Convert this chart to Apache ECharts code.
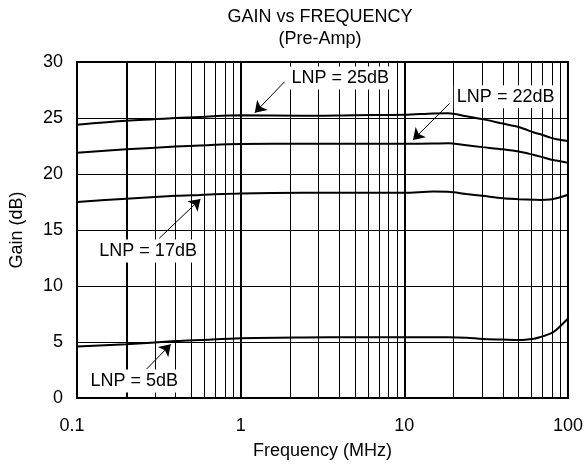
<!DOCTYPE html>
<html>
<head>
<meta charset="utf-8">
<script src="https://cdn.jsdelivr.net/npm/echarts@6/dist/echarts.min.js"></script>
<style>html,body{margin:0;padding:0;background:#fff;}#c{width:586px;height:470px;}</style>
</head>
<body>
<div id="c"></div>
<script>
// ---- data ----
var freq = [0.1, 0.2, 0.4, 0.57, 1, 2.4, 5, 10, 15, 18.5, 24, 30, 40, 50, 62, 68, 78, 85, 100];
var lnp25 = [24.4, 24.75, 25.0, 25.1, 25.25, 25.2, 25.25, 25.28, 25.4, 25.42, 25.15, 24.9, 24.5, 24.2, 23.7, 23.55, 23.25, 23.1, 22.95];
var lnp22 = [21.9, 22.2, 22.45, 22.55, 22.68, 22.7, 22.7, 22.7, 22.72, 22.74, 22.56, 22.4, 22.2, 22.0, 21.7, 21.55, 21.3, 21.2, 21.0];
var lnp17 = [17.5, 17.8, 18.05, 18.13, 18.27, 18.33, 18.33, 18.33, 18.43, 18.42, 18.21, 18.05, 17.83, 17.75, 17.7, 17.68, 17.72, 17.83, 18.15];
var lnp5  = [4.6, 4.8, 5.08, 5.18, 5.33, 5.4, 5.42, 5.42, 5.42, 5.42, 5.38, 5.27, 5.22, 5.18, 5.3, 5.45, 5.75, 6.1, 7.1];
var yTicks = [0, 5, 10, 15, 20, 25, 30];
var xTicks = [0.1, 1, 10, 100];
var thickVLines = [0.2, 1, 10];
var thinVLines = [0.3,0.4,0.5,0.6,0.7,0.8,0.9, 2,3,4,5,6,7,8,9, 20,30,40,50,60,70,80,90];
// annotation text, label anchor [freq, gain], arrow start, arrow end
var annoText = ['LNP = 25dB', 'LNP = 22dB', 'LNP = 17dB', 'LNP = 5dB'];
var annoLabel = [[4.06, 28.57], [41.6, 26.9], [0.272, 13.13], [0.224, 1.52]];
var annoFrom = [[1.855, 28.24], [18.9, 26.3], [0.318, 14.26], [0.265, 2.56]];
var annoTo = [[1.22, 25.47], [11.3, 23.04], [0.568, 17.77], [0.374, 4.79]];

function pairs(ys){ return freq.map(function(f,i){ return [f, ys[i]]; }); }

var FONT = 'Liberation Sans, Arial, sans-serif';
var chart = echarts.init(document.getElementById('c'), null, {renderer:'canvas'});

var vLines = [];
thinVLines.forEach(function(v){ vLines.push({xAxis: v, lineStyle:{width:1, color:'#000', type:'solid'}}); });
thickVLines.forEach(function(v){ vLines.push({xAxis: v, lineStyle:{width:2, color:'#000', type:'solid'}}); });

var curveStyle = {type:'line', smooth:0.3, showSymbol:false, symbol:'none', lineStyle:{color:'#000', width:2}, z:4, silent:true, animation:false};

var option = {
  animation:false,
  backgroundColor:'#fff',
  graphic:[
    {type:'text', x:320, y:17, z:10, style:{text:'GAIN vs FREQUENCY', font:'18px '+FONT, fill:'#000', align:'center', verticalAlign:'middle'}},
    {type:'text', x:320, y:39, z:10, style:{text:'(Pre-Amp)', font:'18px '+FONT, fill:'#000', align:'center', verticalAlign:'middle'}}
  ],
  grid:{left:72, right:18, top:62, bottom:72, show:true, borderColor:'#000', borderWidth:2, backgroundColor:'transparent'},
  xAxis:{
    type:'log', logBase:10, min:0.1, max:100,
    name:'Frequency (MHz)', nameLocation:'middle', nameGap:44,
    nameTextStyle:{fontSize:18, color:'#000', fontFamily:FONT},
    axisLine:{show:true, lineStyle:{color:'#000', width:2}},
    axisTick:{show:false},
    splitLine:{show:false},
    axisLabel:{fontSize:18, color:'#000', fontFamily:FONT, margin:19, alignMinLabel:'center', alignMaxLabel:'center',
      rich:{m:{fontSize:18, color:'#000', fontFamily:FONT, padding:[0,10,0,0]}},
      formatter:function(v){
        var r = xTicks.filter(function(t){ return Math.abs(t-v) < 1e-9*Math.max(1,v); });
        if (!r.length) return '';
        return r[0] === xTicks[0] ? '{m|' + r[0] + '}' : String(r[0]);
      }}
  },
  yAxis:{
    type:'value', min:0, max:30, interval:5,
    name:'Gain (dB)', nameLocation:'middle', nameGap:51,
    nameTextStyle:{fontSize:18, color:'#000', fontFamily:FONT},
    axisLine:{show:true, lineStyle:{color:'#000', width:2}},
    axisTick:{show:false},
    splitLine:{show:true, lineStyle:{color:'#000', width:1}},
    axisLabel:{fontSize:18, color:'#000', fontFamily:FONT, margin:14,
      formatter:function(v){ return yTicks.indexOf(v) >= 0 ? String(v) : ''; }}
  },
  series:[
    {type:'line', data:[], z:2, silent:true, animation:false,
      markLine:{silent:true, symbol:['none','none'], label:{show:false}, animation:false,
        lineStyle:{type:'solid', color:'#000'}, emphasis:{disabled:true}, data:vLines}},
    Object.assign({name:'LNP 25dB', data:pairs(lnp25)}, curveStyle),
    Object.assign({name:'LNP 22dB', data:pairs(lnp22)}, curveStyle),
    Object.assign({name:'LNP 17dB', data:pairs(lnp17)}, curveStyle),
    Object.assign({name:'LNP 5dB', data:pairs(lnp5)}, curveStyle),
    {type:'line', data:[], z:6, silent:true, animation:false,
      markLine:{silent:true, animation:false, symbol:['none','arrow'], symbolSize:11, label:{show:false},
        lineStyle:{color:'#000', width:1, type:'solid'},
        data: annoFrom.map(function(p,i){ return [{coord:p}, {coord:annoTo[i]}]; })},
      markPoint:{silent:true, animation:false, symbol:'circle', symbolSize:1, itemStyle:{color:'rgba(0,0,0,0)'},
        label:{show:true, position:'inside', color:'#000', fontSize:18, fontFamily:FONT, backgroundColor:'#fff', padding:[3,3,2,3],
          formatter:function(p){ return p.name; }},
        data: annoLabel.map(function(p,i){ return {name:annoText[i], coord:p}; })}
    }
  ]
};
chart.setOption(option);
</script>
</body>
</html>
